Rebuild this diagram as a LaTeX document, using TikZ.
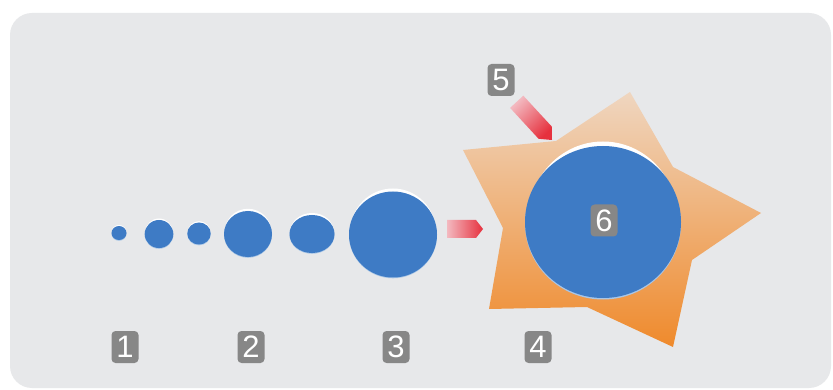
\documentclass[tikz,border=0pt]{standalone}
\usepackage{fontspec}
\setmainfont{Liberation Sans}
\usetikzlibrary{shapes.geometric}
\definecolor{bgpanel}{HTML}{E7E8EA}
\definecolor{ballblue}{HTML}{3E7BC5}
\definecolor{rimblue}{HTML}{A9C6E6}
\definecolor{tagray}{HTML}{878787}
\definecolor{startop}{HTML}{EFD6C0}
\definecolor{starbot}{HTML}{EF8A2C}
\definecolor{arrlight}{HTML}{F3B9C0}
\definecolor{arrred}{HTML}{E6313E}
\tikzset{
  tagbox/.style={fill=tagray, rounded corners=4pt, minimum width=27pt, minimum height=32pt,
    inner sep=0pt, text=white, font=\fontsize{31}{31}\selectfont},
  ball/.style={fill=ballblue},
  ballhi/.style={fill=white},
  ballrim/.style={fill=rimblue},
}
\begin{document}
\begin{tikzpicture}[x=1pt,y=-1pt]
\useasboundingbox (0,0) rectangle (833,390);
\fill[white] (0,0) rectangle (833,390);
\fill[bgpanel, rounded corners=22pt] (10,13) rectangle (831,388);

% small balls
\foreach \cx/\cy/\rx/\ry/\o in {119/233/7.5/7/1, 159/234/14.3/14/1.5, 199/233.5/11.7/11/1.3,
  248/234/24/23/2.2, 312/234/22.5/19/2, 393/234.5/44/43/3}{
  \fill[ballrim] (\cx,\cy+0.8) ellipse [x radius=\rx, y radius=\ry];
  \fill[ballhi] (\cx,\cy-\o) ellipse [x radius=\rx*0.97, y radius=\ry];
  \fill[ball] (\cx,\cy) ellipse [x radius=\rx, y radius=\ry];
}

% arrow 3 -> star
\shade[left color=arrlight, right color=arrred]
  (447,220) -- (476,220) -- (483,229) -- (476,238) -- (447,238) -- cycle;

% star
\shade[top color=startop, bottom color=starbot]
  (630,92) -- (673,167) -- (761,213) -- (692,260) -- (673,347) -- (587,307)
  -- (489,309) -- (503,228) -- (463,150) -- (556,141) -- cycle;

% big ball
\fill[ballrim] (603,223.5) ellipse [x radius=78, y radius=76];
\fill[ballhi] (603,217.5) ellipse [x radius=74, y radius=76];
\fill[ball] (603,222) ellipse [x radius=78, y radius=76];

% arrow 5 -> star
\shade[shading=axis, top color=arrlight, bottom color=arrred, shading angle=45]
  (523.3,95.7) -- (551.8,126.6) -- (552,140) -- (538.6,138.8) -- (510.1,107.9) -- cycle;

% tags
\node[tagbox] (t1) at (125,347) {1};
\node[tagbox] (t2) at (251,347) {2};
\node[tagbox] (t3) at (396,347) {3};
\node[tagbox] (t4) at (538,347) {4};
\node[tagbox] (t5) at (501,80) {5};
\node[tagbox] (t6) at (604,220.5) {6};
\end{tikzpicture}
\end{document}
